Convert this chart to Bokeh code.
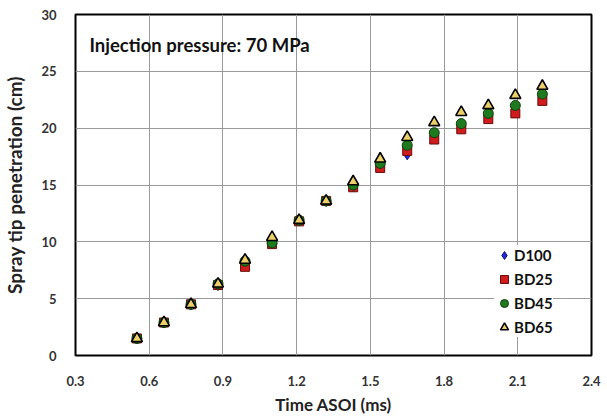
from bokeh.plotting import figure
from bokeh.models import Range1d, FixedTicker, Label, Legend, LegendItem
from bokeh.embed import file_html
from bokeh.resources import INLINE

# Data
time_ms = [0.55, 0.66, 0.77, 0.88, 0.99, 1.10, 1.21, 1.32, 1.43, 1.54, 1.65, 1.76, 1.87, 1.98, 2.09, 2.20]
d100 = [1.5, 2.9, 4.5, 6.2, 8.0, 9.9, 11.9, 13.6, 14.9, 16.6, 17.7, 19.1, 20.0, 20.9, 21.5, 22.5]
bd25 = [1.5, 2.9, 4.5, 6.2, 7.8, 9.8, 11.8, 13.6, 14.8, 16.5, 18.0, 19.0, 19.9, 20.8, 21.3, 22.4]
bd45 = [1.5, 2.9, 4.5, 6.3, 8.3, 9.9, 11.9, 13.6, 15.0, 16.9, 18.5, 19.6, 20.4, 21.3, 22.0, 23.0]
bd65 = [1.5, 2.9, 4.5, 6.3, 8.4, 10.4, 11.9, 13.6, 15.3, 17.3, 19.2, 20.5, 21.4, 22.0, 22.9, 23.7]
x_ticks = [0.3, 0.6, 0.9, 1.2, 1.5, 1.8, 2.1, 2.4]
y_ticks = [0, 5, 10, 15, 20, 25, 30]
annotation = "Injection pressure: 70 MPa"

FONT = "Lato"

p = figure(frame_width=516, frame_height=341, output_backend="svg", toolbar_location=None,
           x_range=Range1d(0.3, 2.4), y_range=Range1d(0, 30),
           min_border_left=74, min_border_right=17, min_border_top=14, min_border_bottom=62)

p.outline_line_color = "black"
p.outline_line_width = 2
p.background_fill_color = "white"
p.border_fill_color = "white"

for ax in (p.xaxis, p.yaxis):
    ax.axis_line_color = None
    ax.major_tick_line_color = None
    ax.minor_tick_line_color = None
    ax.major_label_text_font = FONT
    ax.major_label_text_font_style = "bold"
    ax.major_label_text_font_size = "13px"
    ax.major_label_text_color = "#333333"
    ax.axis_label_text_font = FONT
    ax.axis_label_text_font_style = "bold"
    ax.axis_label_text_color = "#222222"

p.xaxis.axis_label_text_font_size = "17px"
p.yaxis.axis_label_text_font_size = "19px"
p.xaxis.ticker = FixedTicker(ticks=x_ticks)
p.yaxis.ticker = FixedTicker(ticks=y_ticks)
p.xaxis.major_label_overrides = {t: f"{t:.1f}" for t in x_ticks}
p.xaxis.axis_label = "Time ASOI (ms)"
p.yaxis.axis_label = "Spray tip penetration (cm)"
p.xaxis.major_label_standoff = 14
p.yaxis.major_label_standoff = 13
p.xaxis.axis_label_standoff = 5
p.yaxis.axis_label_standoff = 12

p.xgrid.ticker = FixedTicker(ticks=x_ticks)
p.ygrid.ticker = FixedTicker(ticks=y_ticks)
p.xgrid.grid_line_color = "#9A9A9A"
p.ygrid.grid_line_color = "#9A9A9A"

r1 = p.scatter(time_ms, d100, marker="diamond", size=11, fill_color="#1F2BD6", line_color="#10107A", line_width=1)
r2 = p.scatter(time_ms, bd25, marker="square", size=9, fill_color="#D01C1C", line_color="#6A0A0A", line_width=1)
r3 = p.scatter(time_ms, bd45, marker="circle", size=10, fill_color="#1E7A1E", line_color="#0E3E0E", line_width=1)
r4 = p.scatter(time_ms, bd65, marker="triangle", size=11, fill_color="#EDCF6A", line_color="black", line_width=1.6)

legend = Legend(items=[LegendItem(label="D100", renderers=[r1]),
                       LegendItem(label="BD25", renderers=[r2]),
                       LegendItem(label="BD45", renderers=[r3]),
                       LegendItem(label="BD65", renderers=[r4])],
                location=(419, 18))
legend.label_text_font = FONT
legend.label_text_font_style = "bold"
legend.label_text_font_size = "15px"
legend.label_text_color = "#111111"
legend.border_line_color = None
legend.background_fill_color = "white"
legend.background_fill_alpha = 1
legend.glyph_width = 20
legend.glyph_height = 20
legend.label_height = 20
legend.label_standoff = 0
legend.spacing = 4
legend.padding = 6
legend.margin = 0
p.add_layout(legend)

p.add_layout(Label(x=0.357, y=27.3, text=annotation, text_font=FONT, text_font_style="bold",
                   text_font_size="18.5px", text_baseline="middle", text_color="#111111"))

open("out.html", "w").write(file_html(p, INLINE))
